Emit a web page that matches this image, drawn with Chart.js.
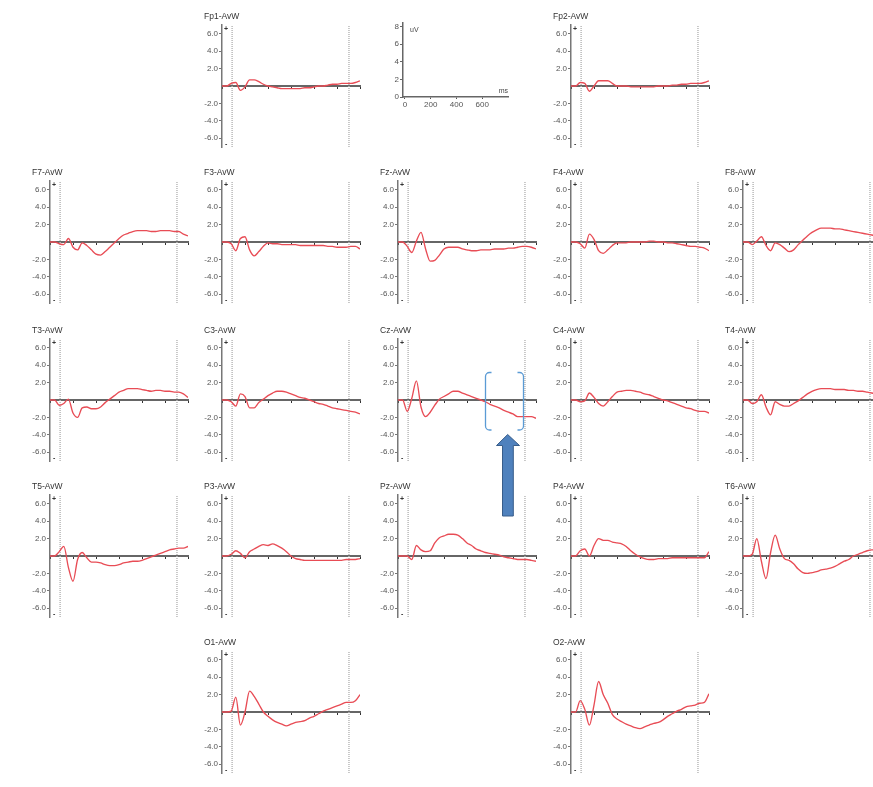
<!DOCTYPE html>
<html lang="en">
<head>
  <meta charset="UTF-8">
  <title>ERP AvW montage</title>
  <script src="https://cdn.jsdelivr.net/npm/chart.js"></script>
  <style>
    html, body { margin: 0; padding: 0; background: #fff; }
    body { position: relative; width: 873px; height: 787px; overflow: hidden; }
    canvas { position: absolute; }
  </style>
</head>
<body>

<script>
// time base (ms) shared by all channels
const times = [-100,-80,-60,-40,-20,0,20,40,60,80,100,120,140,160,180,200,220,240,260,280,300,320,340,360,380,400,420,440,460,480,500];

// amplitudes (uV)
const Fp1 = [0,0,0.3,0.4,-0.5,-0.1,0.7,0.7,0.5,0.2,0,-0.1,-0.2,-0.3,-0.3,-0.3,-0.3,-0.3,-0.2,-0.2,-0.1,0,0,0.1,0.2,0.2,0.3,0.3,0.3,0.4,0.6];
const Fp2 = [0,0,0.4,0.3,-0.6,0,0.6,0.6,0.6,0.3,0,0,0,-0.1,-0.1,-0.1,-0.1,-0.1,-0.1,0,0,0,0.1,0.1,0.2,0.2,0.3,0.3,0.3,0.4,0.6];
const F7  = [0,0,-0.2,-0.3,0.4,-0.6,-0.9,-0.1,-0.4,-0.9,-1.4,-1.5,-1.1,-0.6,-0.1,0.4,0.8,1.0,1.2,1.3,1.3,1.3,1.2,1.2,1.3,1.3,1.3,1.2,1.2,0.9,0.7];
const F3  = [0,0,-0.2,-1.0,0.4,0.6,-0.9,-1.6,-1.1,-0.5,-0.1,-0.2,-0.2,-0.3,-0.3,-0.3,-0.3,-0.4,-0.4,-0.4,-0.4,-0.4,-0.4,-0.5,-0.5,-0.6,-0.6,-0.6,-0.5,-0.5,-0.8];
const Fz  = [0,0,-0.5,-1.2,0.1,1.1,-0.8,-2.2,-2.1,-1.5,-0.8,-0.6,-0.6,-0.6,-0.8,-0.9,-1.0,-1.0,-0.9,-0.9,-0.9,-0.8,-0.8,-0.8,-0.7,-0.7,-0.6,-0.5,-0.5,-0.6,-0.8];
const F4  = [0,0,-0.2,-0.7,0.9,0.3,-1.0,-1.3,-0.9,-0.4,-0.1,-0.1,-0.1,0,0,0,0,0.1,0.1,0,0,-0.1,-0.1,-0.2,-0.3,-0.4,-0.5,-0.5,-0.6,-0.7,-1.0];
const F8  = [0,0,-0.3,0.1,0.6,-0.4,-1.0,-0.1,-0.3,-0.7,-1.1,-0.9,-0.3,0.2,0.7,1.1,1.4,1.6,1.6,1.6,1.5,1.5,1.4,1.3,1.2,1.1,1.0,0.9,0.8,0.7,0.6];
const T3  = [0,0,-0.6,-0.4,0.1,-1.5,-2.0,-0.9,-0.8,-1.0,-1.0,-0.8,-0.3,0.1,0.5,0.9,1.1,1.3,1.3,1.3,1.2,1.1,1.0,1.1,1.1,1.0,1.0,0.9,0.9,0.7,0.3];
const C3  = [0,0,-0.2,-0.7,0.7,0.4,-0.9,-0.9,-0.3,0.1,0.5,0.8,1.0,1.0,0.9,0.7,0.5,0.3,0.2,0,-0.2,-0.4,-0.5,-0.7,-0.9,-1.0,-1.1,-1.2,-1.3,-1.4,-1.6];
const Cz  = [0,0,-1.3,0.2,2.2,-0.8,-1.9,-1.4,-0.6,0.1,0.4,0.7,1.0,1.0,0.8,0.6,0.4,0.2,0,-0.2,-0.5,-0.7,-0.9,-1.2,-1.4,-1.6,-1.9,-1.9,-1.9,-1.9,-2.1];
const C4  = [0,0,-0.2,-0.1,0.8,0.3,-0.4,-0.7,-0.2,0.4,0.9,1.0,1.1,1.1,1.0,0.9,0.7,0.6,0.4,0.2,0,-0.1,-0.3,-0.5,-0.7,-0.9,-1.0,-1.2,-1.3,-1.3,-1.5];
const T4  = [0,0,-0.4,-0.2,0.6,-0.8,-1.7,-0.2,-0.5,-0.7,-0.7,-0.4,-0.1,0.3,0.7,1.0,1.2,1.3,1.3,1.3,1.2,1.2,1.2,1.1,1.1,1.0,1.0,0.9,0.8,0.7,0.6];
const T5  = [0,0,0.5,1.1,-1.3,-2.9,-0.4,0.4,-0.2,-0.7,-0.7,-0.8,-1.0,-1.1,-1.1,-1.0,-0.8,-0.7,-0.6,-0.6,-0.5,-0.3,-0.1,0.1,0.3,0.5,0.7,0.8,0.9,0.9,1.1];
const P3  = [0,0,0.2,0.6,0.3,-0.2,0.5,0.8,1.1,1.3,1.2,1.4,1.2,0.9,0.5,0,-0.3,-0.4,-0.5,-0.5,-0.5,-0.5,-0.5,-0.5,-0.5,-0.5,-0.5,-0.4,-0.4,-0.4,-0.3];
const Pz  = [0,0,0,-0.4,1.2,0.7,0.5,0.6,1.5,2.1,2.3,2.5,2.5,2.4,2.0,1.5,1.2,0.8,0.6,0.4,0.3,0.2,0.1,-0.1,-0.2,-0.3,-0.4,-0.4,-0.4,-0.5,-0.6];
const P4  = [0,0,0.6,0.8,0,1.2,2.0,1.8,1.8,1.6,1.5,1.4,1.1,0.6,0.2,-0.1,-0.3,-0.4,-0.4,-0.3,-0.3,-0.3,-0.2,-0.2,-0.2,-0.2,-0.2,-0.2,-0.2,-0.2,0.5];
const T6  = [0,0,0.2,2.0,-0.6,-2.6,0.4,2.4,0.8,-0.3,-0.5,-0.9,-1.5,-1.9,-2.0,-1.9,-1.8,-1.6,-1.5,-1.4,-1.2,-0.9,-0.6,-0.4,0,0.2,0.4,0.6,0.7,0.7,0.8];
const O1  = [0,0,0.1,1.7,-1.5,0,2.4,1.8,0.9,0,-0.5,-0.9,-1.2,-1.4,-1.6,-1.4,-1.2,-1.1,-1.0,-0.7,-0.5,-0.2,0.1,0.3,0.5,0.7,0.9,1.1,1.1,1.3,2.0];
const O2  = [0,0,1.3,0.3,-1.5,0.8,3.5,2.0,1.0,-0.3,-0.8,-1.1,-1.4,-1.6,-1.8,-1.9,-1.7,-1.5,-1.3,-1.2,-0.9,-0.5,-0.2,0.1,0.3,0.6,0.7,0.8,1.0,1.1,2.1];

// channel name, values, grid column, grid row
const channels = [
  ["Fp1-AvW", Fp1, 1, 0], ["Fp2-AvW", Fp2, 3, 0],
  ["F7-AvW", F7, 0, 1], ["F3-AvW", F3, 1, 1], ["Fz-AvW", Fz, 2, 1], ["F4-AvW", F4, 3, 1], ["F8-AvW", F8, 4, 1],
  ["T3-AvW", T3, 0, 2], ["C3-AvW", C3, 1, 2], ["Cz-AvW", Cz, 2, 2], ["C4-AvW", C4, 3, 2], ["T4-AvW", T4, 4, 2],
  ["T5-AvW", T5, 0, 3], ["P3-AvW", P3, 1, 3], ["Pz-AvW", Pz, 2, 3], ["P4-AvW", P4, 3, 3], ["T6-AvW", T6, 4, 3],
  ["O1-AvW", O1, 1, 4], ["O2-AvW", O2, 3, 4]
];

const yTicks = [-6, -4, -2, 2, 4, 6];
const markerTimes = [-56, 452];

// calibration box
const calX = [0, 200, 400, 600];
const calY = [0, 2, 4, 6, 8];

// page layout: y-axis x and zero-line y for each column / row
const colX = [50, 222, 398, 571, 743];
const rowY = [86, 242, 400, 556, 712];

Chart.defaults.font.family = '"Liberation Sans", Arial, sans-serif';
Chart.defaults.color = "#555";

function addCanvas(left, top, w, h) {
  const cv = document.createElement("canvas");
  cv.width = w; cv.height = h;
  cv.style.left = left + "px"; cv.style.top = top + "px";
  document.body.appendChild(cv);
  return cv;
}

const panelText = {
  id: "panelText",
  afterDraw(chart, args, opts) {
    const { ctx, chartArea: a } = chart;
    const zero = chart.scales.y.getPixelForValue(0);
    ctx.save();
    ctx.fillStyle = "#333";
    ctx.textBaseline = "middle";
    ctx.font = '8.5px "Liberation Sans", Arial, sans-serif';
    ctx.fillText(opts.name, a.left - 18, zero - 69);
    ctx.font = 'bold 7px "Liberation Sans", Arial, sans-serif';
    ctx.fillText("+", a.left + 2, a.top + 4);
    ctx.fillText("-", a.left + 3, a.bottom - 3);
    ctx.restore();
  }
};

channels.forEach(([name, values, col, row]) => {
  const cv = addCanvas(colX[col] - 40, rowY[row] - 80, 182, 160);
  const markers = markerTimes.map(t => ({
    data: [{ x: t, y: -7 }, { x: t, y: 7 }],
    borderColor: "#b8b8b8", borderWidth: 1.5, borderDash: [1, 1], pointRadius: 0
  }));
  new Chart(cv, {
    type: "line",
    data: {
      datasets: [
        {
          data: times.map((t, i) => ({ x: t, y: values[i] })),
          borderColor: "#e84c55", borderWidth: 1.35, pointRadius: 0,
          cubicInterpolationMode: "monotone"
        },
        ...markers
      ]
    },
    options: {
      responsive: false, animation: false, devicePixelRatio: 1,
      layout: { padding: { top: 19, bottom: 19, left: 0, right: 4 } },
      plugins: { legend: { display: false }, tooltip: { enabled: false }, panelText: { name: name } },
      scales: {
        x: {
          type: "linear", min: -100, max: 500, position: { y: 0 },
          ticks: { display: false, stepSize: 100 },
          grid: { drawOnChartArea: false, tickLength: 2, color: "#333" },
          border: { color: "#666", width: 2 }
        },
        y: {
          min: -7, max: 7,
          afterBuildTicks: s => { s.ticks = yTicks.map(v => ({ value: v })); },
          afterFit: s => { s.width = 40; },
          ticks: { font: { size: 8 }, color: "#555", padding: 1, callback: v => v.toFixed(1) },
          grid: { drawOnChartArea: false, tickLength: 3, color: "#777" },
          border: { color: "#777", width: 1.5 }
        }
      }
    },
    plugins: [panelText]
  });
});

// calibration box (uV / ms)
const calText = {
  id: "calText",
  afterDraw(chart) {
    const { ctx, chartArea: a } = chart;
    ctx.save();
    ctx.fillStyle = "#444";
    ctx.font = '7px "Liberation Sans", Arial, sans-serif';
    ctx.textBaseline = "middle";
    ctx.fillText("uV", a.left + 7, a.top + 7);
    ctx.textAlign = "right";
    ctx.fillText("ms", a.right, a.bottom - 6);
    ctx.restore();
  }
};

new Chart(addCanvas(380, 15, 140, 100), {
  type: "line",
  data: { datasets: [] },
  options: {
    responsive: false, animation: false, devicePixelRatio: 1,
    layout: { padding: { top: 8, right: 12, left: 0, bottom: 0 } },
    plugins: { legend: { display: false }, tooltip: { enabled: false } },
    scales: {
      x: {
        type: "linear", min: -15, max: 800,
        afterBuildTicks: s => { s.ticks = calX.map(v => ({ value: v })); },
        afterFit: s => { s.height = 18; },
        ticks: { font: { size: 8 }, color: "#555", padding: 1, maxRotation: 0, autoSkip: false },
        grid: { drawOnChartArea: false, tickLength: 2, color: "#555" },
        border: { color: "#666", width: 1.5 }
      },
      y: {
        min: 0, max: 8.4,
        afterBuildTicks: s => { s.ticks = calY.map(v => ({ value: v })); },
        afterFit: s => { s.width = 23; },
        ticks: { font: { size: 8 }, color: "#555", padding: 1 },
        grid: { drawOnChartArea: false, tickLength: 3, color: "#666" },
        border: { color: "#666", width: 1.5 }
      }
    }
  },
  plugins: [calText]
});

// blue brackets and arrow pointing at the Cz late window
(function () {
  const ctx = addCanvas(480, 365, 50, 160).getContext("2d");
  ctx.strokeStyle = "#5b9bd5";
  ctx.lineWidth = 1.3;
  const r = 4, top = 7.5, bot = 65;
  ctx.beginPath();
  ctx.moveTo(11.5, top); ctx.arcTo(5.5, top, 5.5, top + r, r); ctx.lineTo(5.5, bot - r);
  ctx.arcTo(5.5, bot, 11.5, bot, r); ctx.lineTo(11.5, bot);
  ctx.moveTo(37.5, top); ctx.arcTo(43.5, top, 43.5, top + r, r); ctx.lineTo(43.5, bot - r);
  ctx.arcTo(43.5, bot, 37.5, bot, r); ctx.lineTo(37.5, bot);
  ctx.stroke();

  ctx.beginPath();
  ctx.moveTo(27.7, 69.5);
  ctx.lineTo(39.5, 80.5);
  ctx.lineTo(33.3, 80.5);
  ctx.lineTo(33.3, 151);
  ctx.lineTo(22.5, 151);
  ctx.lineTo(22.5, 80.5);
  ctx.lineTo(16.5, 80.5);
  ctx.closePath();
  ctx.fillStyle = "#4f81bd";
  ctx.fill();
  ctx.strokeStyle = "#385d8a";
  ctx.lineWidth = 1;
  ctx.stroke();
})();
</script>

</body>
</html>
